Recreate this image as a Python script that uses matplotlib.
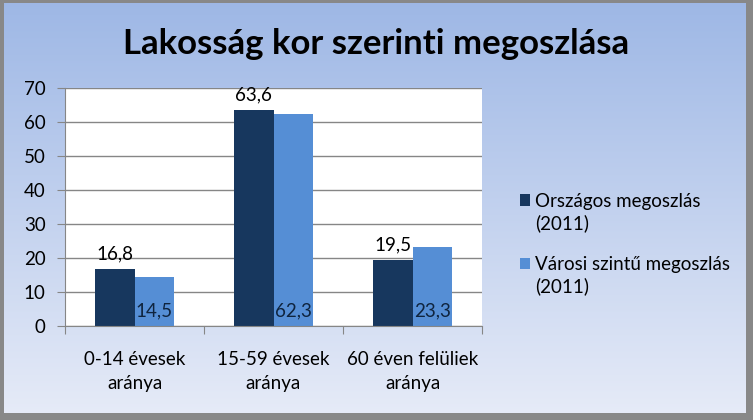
import matplotlib.pyplot as plt
import numpy as np
from matplotlib.patches import Rectangle
from matplotlib.legend_handler import HandlerPatch

categories = ['0-14 évesek\naránya', '15-59 évesek\naránya', '60 éven felüliek\naránya']
orszagos = [16.8, 63.6, 19.5]
varosi = [14.5, 62.3, 23.3]
series_names = ['Országos megoszlás\n(2011)', 'Városi szintű megoszlás\n(2011)']
title = 'Lakosság kor szerinti megoszlása'

dark = '#17375E'
light = '#558ED5'

plt.rcParams['font.family'] = ['Lato', 'DejaVu Sans']

fig = plt.figure(figsize=(7.53, 4.20), dpi=100)
fig.patch.set_facecolor('#888888')

# gradient background
bg = fig.add_axes([4 / 753, 7 / 420, 742 / 753, 410 / 420], zorder=0)
top = np.array([0.62, 0.72, 0.90])
bot = np.array([0.90, 0.92, 0.97])
t = np.linspace(0, 1, 256)[:, None]
grad = top[None, :] * (1 - t) + bot[None, :] * t
bg.imshow(grad[:, None, :], aspect='auto', extent=[0, 1, 0, 1])
bg.set_axis_off()

ax = fig.add_axes([65 / 753, 1 - 326 / 420, 417 / 753, 238 / 420], zorder=1)
ax.set_facecolor('white')
x = np.arange(len(categories))
w = 0.285
b1 = ax.bar(x - w / 2, orszagos, w, color=dark, label=series_names[0], zorder=2)
b2 = ax.bar(x + w / 2, varosi, w, color=light, label=series_names[1], zorder=2)

fs = 13.5
for rect, v in zip(b1, orszagos):
    ax.text(rect.get_x() + rect.get_width() / 2, v + 2.0, f'{v:.1f}'.replace('.', ','),
            ha='center', va='bottom', fontsize=fs, color='black')
for rect, v in zip(b2, varosi):
    ax.text(rect.get_x() + rect.get_width() / 2, 2.0, f'{v:.1f}'.replace('.', ','),
            ha='center', va='bottom', fontsize=fs, color='#0F243E')

ax.set_xlim(-0.5, 2.5)
ax.set_ylim(0, 70)
ax.set_yticks(range(0, 71, 10))
ax.yaxis.grid(True, color='#868686', linewidth=1)
ax.set_axisbelow(True)
ax.set_xticks([-0.5, 0.5, 1.5, 2.5])
ax.set_xticklabels([])
ax.set_xticks(x, minor=True)
ax.set_xticklabels(categories, minor=True, fontsize=fs, linespacing=1.5)
ax.tick_params(axis='x', which='minor', length=0, pad=18)
ax.tick_params(axis='x', which='major', length=6, color='#868686')
ax.tick_params(axis='y', length=6, color='#868686', labelsize=fs, pad=8)
for s in ['top', 'right']:
    ax.spines[s].set_visible(False)
ax.spines['left'].set_color('#868686')
ax.spines['bottom'].set_color('#868686')


# legend square sits next to the first text line
def top_square(legend, orig_handle, xdescent, ydescent, width, height, fontsize):
    return Rectangle((-xdescent, -ydescent + 9), width, height)


leg = fig.legend(handles=[b1[0], b2[0]], labels=series_names, loc='upper left',
                 bbox_to_anchor=(512 / 753, 1 - 185 / 420), frameon=False,
                 fontsize=13.5, handlelength=0.55, handleheight=0.55,
                 handletextpad=0.3, labelspacing=1.3, borderaxespad=0,
                 handler_map={Rectangle: HandlerPatch(patch_func=top_square)})
for txt in leg.get_texts():
    txt.set_linespacing(1.3)

fig.text(376 / 753, 1 - 44 / 420, title, ha='center', va='center',
         fontsize=25, fontweight='bold', color='black')

fig.savefig('out.png', dpi=100, facecolor=fig.get_facecolor())
